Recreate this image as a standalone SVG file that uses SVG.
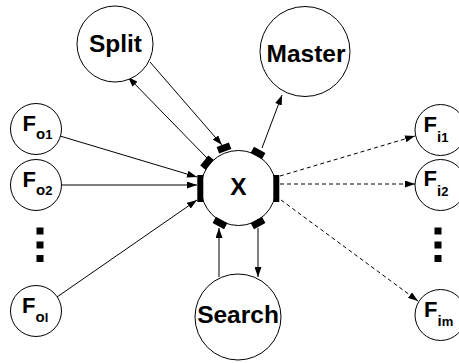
<svg xmlns="http://www.w3.org/2000/svg" width="459" height="363" viewBox="0 0 459 363">
<defs>
<style>
.n{fill:#fff;stroke:#000;stroke-width:1}
.t{font-family:"Liberation Sans",Arial,sans-serif;font-weight:bold;fill:#000}
.lbl{font-size:24.5px;text-anchor:middle}
.f{font-size:22px}
.s{font-size:15px}
.ss{font-size:13px}
.c{stroke:#000;stroke-width:1;fill:none;marker-end:url(#ah)}
.d{stroke-dasharray:4 3}
.p{fill:#000}
</style>
<marker id="ah" markerUnits="userSpaceOnUse" markerWidth="10" markerHeight="7" refX="10" refY="3.5" orient="auto">
<path d="M0,0 L10,3.5 L0,7 z" fill="#000"/>
</marker>
</defs>
<g id="connectors">
<line class="c" x1="60" y1="136" x2="197" y2="177"/>
<line class="c" x1="62" y1="185" x2="197" y2="185"/>
<line class="c" x1="57" y1="297" x2="197" y2="200"/>
<line class="c d" x1="280" y1="176" x2="415" y2="136"/>
<line class="c d" x1="280" y1="184" x2="415" y2="184"/>
<line class="c d" x1="281" y1="200" x2="418" y2="301"/>
<line class="c" x1="150" y1="62" x2="222" y2="145"/>
<line class="c" x1="207" y1="158" x2="128" y2="77"/>
<line class="c" x1="262" y1="148" x2="282" y2="95"/>
<line class="c" x1="219" y1="277" x2="219" y2="228"/>
<line class="c" x1="258" y1="228" x2="258" y2="277"/>
</g>
<g id="X">
<circle class="n" cx="238.5" cy="188" r="37.5"/>
<rect class="p" x="197.3" y="175" width="6" height="27"/>
<rect class="p" x="273.3" y="175" width="6" height="27"/>
<rect class="p" x="-6.5" y="-3.5" width="13" height="7" transform="translate(224,148) rotate(-20.7)"/>
<rect class="p" x="-6.5" y="-3.5" width="13" height="7" transform="translate(207,162.7) rotate(-51.6)"/>
<rect class="p" x="-6.5" y="-3.5" width="13" height="7" transform="translate(258,153) rotate(29)"/>
<rect class="p" x="-6.5" y="-3.5" width="13" height="7" transform="translate(220,223) rotate(28)"/>
<rect class="p" x="-6.5" y="-3.5" width="13" height="7" transform="translate(258,223) rotate(-29)"/>
<text class="t lbl" x="238.5" y="195">X</text>
</g>
<g id="Split">
<circle class="n" cx="115" cy="44" r="38"/>
<text class="t lbl" x="115.5" y="51.7">Split</text>
</g>
<g id="Master">
<circle class="n" cx="305" cy="51.5" r="45"/>
<text class="t lbl" x="306" y="61.7">Master</text>
</g>
<g id="Search">
<circle class="n" cx="238" cy="317" r="43"/>
<text class="t lbl" x="238" y="323">Search</text>
</g>
<g id="Fo1">
<circle class="n" cx="36" cy="129" r="25.5"/>
<text class="t f" x="22.5" y="131">F<tspan class="s" dy="8">o</tspan><tspan class="ss">1</tspan></text>
</g>
<g id="Fo2">
<circle class="n" cx="36" cy="185" r="25.5"/>
<text class="t f" x="22.5" y="187">F<tspan class="s" dy="8">o</tspan><tspan class="ss">2</tspan></text>
</g>
<g id="Fol">
<circle class="n" cx="36" cy="311" r="25.5"/>
<text class="t f" x="22" y="313">F<tspan class="s" dy="8.5">o</tspan><tspan class="ss">l</tspan></text>
</g>
<g id="dotsL">
<rect class="p" x="36.5" y="227.5" width="7" height="7"/>
<rect class="p" x="36.5" y="241.5" width="7" height="7"/>
<rect class="p" x="36.5" y="255" width="7" height="7"/>
</g>
<g id="Fi1">
<circle class="n" cx="440.5" cy="130" r="25.5"/>
<text class="t f" x="423.5" y="132">F<tspan class="s" dy="10">i</tspan><tspan class="ss">1</tspan></text>
</g>
<g id="Fi2">
<circle class="n" cx="440.5" cy="185" r="25.5"/>
<text class="t f" x="423.5" y="186">F<tspan class="s" dy="10">i</tspan><tspan class="ss">2</tspan></text>
</g>
<g id="Fim">
<circle class="n" cx="440.5" cy="315" r="25.5"/>
<text class="t f" x="424" y="317">F<tspan class="s" dy="9">i</tspan><tspan class="ss">m</tspan></text>
</g>
<g id="dotsR">
<rect class="p" x="434.5" y="227.5" width="7" height="7"/>
<rect class="p" x="434.5" y="241.5" width="7" height="7"/>
<rect class="p" x="434.5" y="255" width="7" height="7"/>
</g>
</svg>
